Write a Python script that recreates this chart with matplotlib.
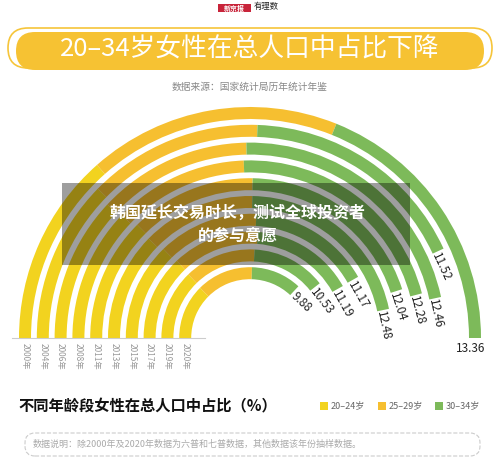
import matplotlib
matplotlib.use("Agg")
import matplotlib.pyplot as plt
from matplotlib.patches import Wedge, FancyBboxPatch, Rectangle
import numpy as np

plt.rcParams['font.family'] = ['Noto Sans CJK SC', 'DejaVu Sans']

years = ['2000年', '2004年', '2006年', '2008年', '2011年', '2013年', '2015年', '2017年', '2019年', '2020年']
age_20_24 = [3.60, 3.30, 3.20, 3.25, 3.35, 3.30, 3.40, 3.45, 3.40, 3.35]
age_25_29 = [4.71, 3.53, 3.40, 3.28, 3.40, 3.45, 3.50, 3.55, 3.50, 3.45]
age_30_34 = [5.05, 4.69, 5.86, 5.75, 5.29, 5.73, 4.27, 4.19, 3.63, 3.08]
totals = ['13.36', '11.52', '12.46', '12.28', '12.04', '12.48', '11.17', '11.19', '10.53', '9.88']
legend_labels = ['20–24岁', '25–29岁', '30–34岁']
colors = ['#F2D31F', '#F6BF30', '#7DBA5A']

W, H = 500, 470
fig = plt.figure(figsize=(5, 4.7), dpi=100)
ax = fig.add_axes([0, 0, 1, 1])
ax.set_xlim(0, W); ax.set_ylim(0, H); ax.axis('off')
def Y(y): return H - y

cx, cy = 250, Y(338)
scale = 180 / 13.36
r_outer, step, width = 225, 17.8, 12

for i, yr in enumerate(years):
    r = r_outer - i * step
    start = 0.0
    for vals, c in zip([age_20_24, age_25_29, age_30_34], colors):
        v = vals[i]
        t2 = 180 - start * scale
        t1 = 180 - (start + v) * scale
        ax.add_patch(Wedge((cx, cy), r + width / 2, t1, t2, width=width, facecolor=c, edgecolor='none'))
        start += v
    end = np.radians(180 - start * scale)
    ax.text(cx - r, Y(343), yr, rotation=-90, ha='center', va='top', fontsize=6, color='#999999')
    if i == 0:
        ax.text(cx + r * np.cos(end) - 4, cy + r * np.sin(end) - 4, totals[i], ha='center', va='top', fontsize=8.5, color='#222222')
    else:
        rr = r - width / 2 + 1
        ax.text(cx + rr * np.cos(end) + 2, cy + rr * np.sin(end), totals[i],
                rotation=np.degrees(end) - 90, rotation_mode='anchor', ha='left', va='center',
                fontsize=8.5, color='#222222')

ax.plot([12, 205], [Y(338), Y(338)], color='#cccccc', lw=0.8)

ax.add_patch(FancyBboxPatch((8, Y(68)), 484, 40, boxstyle='round,pad=0,rounding_size=20',
                            facecolor='white', edgecolor='#F6C53A', lw=1.2))
ax.add_patch(FancyBboxPatch((16, Y(70)), 468, 38, boxstyle='round,pad=0,rounding_size=19',
                            facecolor='#F6C233', edgecolor='none'))
ax.text(250, Y(50), '20–34岁女性在总人口中占比下降', ha='center', va='center', fontsize=18.5, color='white')
ax.text(250, Y(87), '数据来源：国家统计局历年统计年鉴', ha='center', va='center', fontsize=7, color='#888888')

ax.add_patch(Rectangle((218, Y(12)), 33, 8, facecolor='#C8243A', edgecolor='none'))
ax.text(234.5, Y(8), '新京报', ha='center', va='center', fontsize=5, color='white', fontweight='bold')
ax.text(266, Y(7), '有理数', ha='center', va='center', fontsize=6, color='#222222', style='italic')

ax.add_patch(Rectangle((62, Y(265)), 348, 82, facecolor='black', alpha=0.38, edgecolor='none'))
ax.text(238, Y(224), '韩国延长交易时长，测试全球投资者\n的参与意愿', ha='center', va='center',
        fontsize=11.5, color='white', fontweight='bold', linespacing=1.5)

ax.text(18, Y(406), '不同年龄段女性在总人口中占比（%）', ha='left', va='center', fontsize=11, color='#111111', fontweight='bold')
for lx, lab, c in zip([320, 378, 435], legend_labels, colors):
    ax.add_patch(Rectangle((lx, Y(410)), 8, 8, facecolor=c, edgecolor='none'))
    ax.text(lx + 11, Y(406), lab, ha='left', va='center', fontsize=6.5, color='#666666')

ax.add_patch(FancyBboxPatch((25, Y(456)), 455, 23, boxstyle='round,pad=0,rounding_size=10',
                            facecolor='none', edgecolor='#cccccc', lw=0.8, linestyle='--'))
ax.text(33, Y(444), '数据说明：除2000年及2020年数据为六普和七普数据，其他数据该年份抽样数据。',
        ha='left', va='center', fontsize=6.5, color='#aaaaaa')

fig.savefig('out.png', dpi=100)
